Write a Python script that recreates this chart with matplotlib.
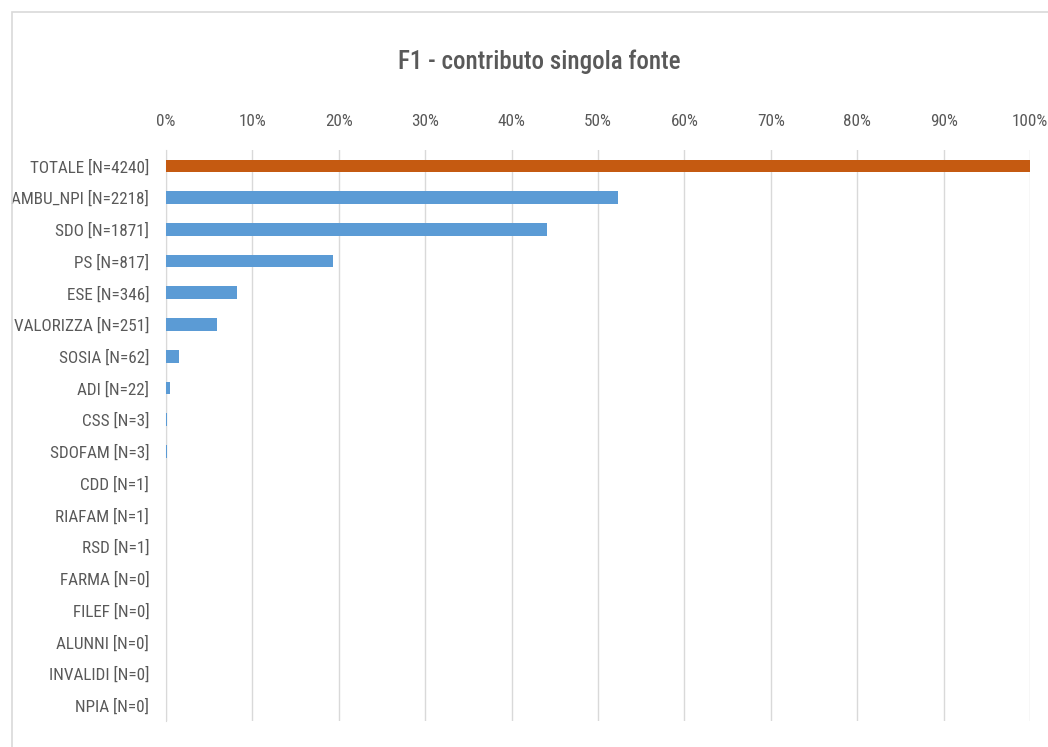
import matplotlib
matplotlib.use("Agg")
import matplotlib.pyplot as plt
from matplotlib.patches import Rectangle
from matplotlib import font_manager

categories = ["TOTALE [N=4240]", "AMBU_NPI [N=2218]", "SDO [N=1871]", "PS [N=817]",
              "ESE [N=346]", "VALORIZZA [N=251]", "SOSIA [N=62]", "ADI [N=22]",
              "CSS [N=3]", "SDOFAM [N=3]", "CDD [N=1]", "RIAFAM [N=1]", "RSD [N=1]",
              "FARMA [N=0]", "FILEF [N=0]", "ALUNNI [N=0]", "INVALIDI [N=0]", "NPIA [N=0]"]
percent = [100.0, 52.3, 44.1, 19.3, 8.2, 5.9, 1.5, 0.5,
           0.07, 0.07, 0.02, 0.02, 0.02, 0.0, 0.0, 0.0, 0.0, 0.0]
ticks = [0, 10, 20, 30, 40, 50, 60, 70, 80, 90, 100]
title = "F1 - contributo singola fonte"

fonts = font_manager.fontManager.ttflist
avail = {f.name for f in fonts}
fam = "DejaVu Sans"
for cand in ["Roboto Condensed", "Asap Condensed", "Archivo Narrow",
             "Barlow Condensed", "Liberation Sans Narrow", "Carlito"]:
    if cand in avail:
        fam = cand
        break
plt.rcParams['font.family'] = [fam, 'DejaVu Sans']

fig = plt.figure(figsize=(10.48, 7.47), dpi=100)
fig.patches.append(Rectangle((12/1048, -0.1), 1.2, (747-12)/747 + 0.1, transform=fig.transFigure,
                             fill=False, edgecolor="#D9D9D9", linewidth=1.2))
ax = fig.add_axes([166/1048, 26/747, 864/1048, 571/747])

colors = ["#C55A11"] + ["#5B9BD5"] * (len(categories) - 1)
y = list(range(len(categories)))
ax.barh(y, percent, height=0.4, color=colors, zorder=3)
ax.set_ylim(len(categories) - 0.5, -0.5)
ax.set_xlim(0, 100)
ax.set_yticks(y)
ax.set_yticklabels(categories, fontsize=12.3, color="#595959", fontweight="normal")
ax.set_xticks(ticks)
ax.set_xticklabels([f"{t}%" for t in ticks], fontsize=12.3, color="#595959", fontweight="normal")
ax.xaxis.tick_top()
ax.tick_params(axis='x', length=0, pad=15)
ax.tick_params(axis='y', length=0, pad=12)
ax.grid(axis='x', color="#D9D9D9", linewidth=1, zorder=0)
for s in ["top", "right", "bottom"]:
    ax.spines[s].set_visible(False)
ax.spines["left"].set_color("#D9D9D9")
ax.spines["left"].set_zorder(0)

fig.text(539 / 1048, (747 - 62) / 747, title, ha="center", va="center",
         fontsize=18, fontweight="medium", color="#595959")

fig.savefig("out.png", dpi=100)
